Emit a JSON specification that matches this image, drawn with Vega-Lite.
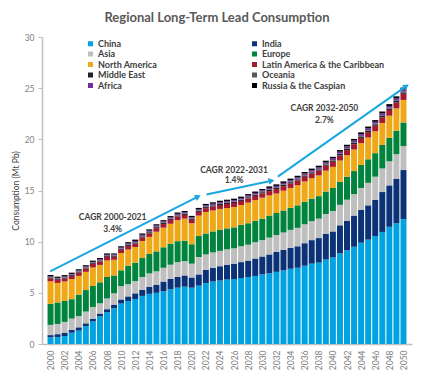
{
  "$schema": "https://vega.github.io/schema/vega-lite/v6.json",
  "width": 370,
  "height": 307,
  "autosize": {"type": "none"},
  "padding": {"left": 42, "top": 37, "right": 22, "bottom": 34},
  "background": "white",
  "title": {"text": "Regional Long-Term Lead Consumption", "font": "Lato", "fontSize": 13, "fontWeight": "bold", "color": "#595959", "anchor": "middle", "dx": -10, "offset": 8},
  "config": {
    "view": {"stroke": null},
    "axis": {"grid": false, "domainColor": "#BFBFBF", "tickColor": "#BFBFBF", "labelColor": "#7F7F7F", "labelFont": "Lato", "labelFontSize": 8.5, "titleFont": "Lato", "titleColor": "#404040", "titleFontSize": 8.5, "titleFontWeight": "normal"},
    "axisX": {"labelOverlap": false, "labelSeparation": 0, "labelBound": false},
    "legend": {"labelFont": "Lato", "labelFontSize": 9, "labelFontWeight": "bold", "labelColor": "#404040"}
  },
  "datasets": {
    "bars": [
      {"year":2000,"China":0.65,"India":0.22,"Asia":1.0,"Europe":2.05,"North America":2.2,"Latin America & the Caribbean":0.3,"Middle East":0.08,"Oceania":0.05,"Africa":0.07,"Russia & the Caspian":0.12},
      {"year":2001,"China":0.68,"India":0.28,"Asia":1.0,"Europe":2.1,"North America":1.91,"Latin America & the Caribbean":0.29,"Middle East":0.08,"Oceania":0.05,"Africa":0.07,"Russia & the Caspian":0.12},
      {"year":2002,"China":0.78,"India":0.33,"Asia":1.05,"Europe":2.05,"North America":1.9,"Latin America & the Caribbean":0.3,"Middle East":0.08,"Oceania":0.05,"Africa":0.07,"Russia & the Caspian":0.12},
      {"year":2003,"China":1.1,"India":0.28,"Asia":1.1,"Europe":1.9,"North America":1.96,"Latin America & the Caribbean":0.31,"Middle East":0.08,"Oceania":0.05,"Africa":0.07,"Russia & the Caspian":0.12},
      {"year":2004,"China":1.3,"India":0.33,"Asia":1.1,"Europe":2.1,"North America":1.83,"Latin America & the Caribbean":0.32,"Middle East":0.08,"Oceania":0.05,"Africa":0.07,"Russia & the Caspian":0.12},
      {"year":2005,"China":1.75,"India":0.27,"Asia":1.15,"Europe":2.1,"North America":1.78,"Latin America & the Caribbean":0.33,"Middle East":0.08,"Oceania":0.05,"Africa":0.07,"Russia & the Caspian":0.12},
      {"year":2006,"China":2.2,"India":0.27,"Asia":1.15,"Europe":2.05,"North America":1.81,"Latin America & the Caribbean":0.34,"Middle East":0.08,"Oceania":0.05,"Africa":0.08,"Russia & the Caspian":0.12},
      {"year":2007,"China":2.7,"India":0.28,"Asia":1.0,"Europe":2.05,"North America":1.7,"Latin America & the Caribbean":0.34,"Middle East":0.08,"Oceania":0.05,"Africa":0.08,"Russia & the Caspian":0.12},
      {"year":2008,"China":3.1,"India":0.3,"Asia":1.05,"Europe":2.1,"North America":1.62,"Latin America & the Caribbean":0.34,"Middle East":0.08,"Oceania":0.05,"Africa":0.08,"Russia & the Caspian":0.13},
      {"year":2009,"China":3.5,"India":0.35,"Asia":1.1,"Europe":1.75,"North America":1.53,"Latin America & the Caribbean":0.3,"Middle East":0.08,"Oceania":0.05,"Africa":0.08,"Russia & the Caspian":0.11},
      {"year":2010,"China":3.95,"India":0.4,"Asia":1.3,"Europe":1.55,"North America":1.68,"Latin America & the Caribbean":0.33,"Middle East":0.08,"Oceania":0.05,"Africa":0.08,"Russia & the Caspian":0.13},
      {"year":2011,"China":4.2,"India":0.45,"Asia":1.2,"Europe":1.8,"North America":1.58,"Latin America & the Caribbean":0.34,"Middle East":0.1,"Oceania":0.05,"Africa":0.1,"Russia & the Caspian":0.13},
      {"year":2012,"China":4.4,"India":0.55,"Asia":1.2,"Europe":1.8,"North America":1.53,"Latin America & the Caribbean":0.34,"Middle East":0.1,"Oceania":0.05,"Africa":0.1,"Russia & the Caspian":0.13},
      {"year":2013,"China":4.7,"India":0.6,"Asia":1.25,"Europe":1.85,"North America":1.67,"Latin America & the Caribbean":0.35,"Middle East":0.1,"Oceania":0.05,"Africa":0.1,"Russia & the Caspian":0.13},
      {"year":2014,"China":4.9,"India":0.7,"Asia":1.3,"Europe":1.9,"North America":1.67,"Latin America & the Caribbean":0.35,"Middle East":0.1,"Oceania":0.05,"Africa":0.1,"Russia & the Caspian":0.13},
      {"year":2015,"China":5.0,"India":0.8,"Asia":1.3,"Europe":1.95,"North America":1.92,"Latin America & the Caribbean":0.35,"Middle East":0.1,"Oceania":0.05,"Africa":0.1,"Russia & the Caspian":0.13},
      {"year":2016,"China":5.15,"India":0.95,"Asia":1.35,"Europe":2.0,"North America":1.92,"Latin America & the Caribbean":0.35,"Middle East":0.1,"Oceania":0.05,"Africa":0.1,"Russia & the Caspian":0.13},
      {"year":2017,"China":5.35,"India":1.0,"Asia":1.4,"Europe":2.05,"North America":1.95,"Latin America & the Caribbean":0.36,"Middle East":0.1,"Oceania":0.05,"Africa":0.11,"Russia & the Caspian":0.13},
      {"year":2018,"China":5.5,"India":1.05,"Asia":1.45,"Europe":2.05,"North America":2.05,"Latin America & the Caribbean":0.36,"Middle East":0.1,"Oceania":0.05,"Africa":0.11,"Russia & the Caspian":0.13},
      {"year":2019,"China":5.6,"India":1.1,"Asia":1.4,"Europe":2.0,"North America":2.15,"Latin America & the Caribbean":0.36,"Middle East":0.1,"Oceania":0.05,"Africa":0.11,"Russia & the Caspian":0.13},
      {"year":2020,"China":5.5,"India":1.0,"Asia":1.35,"Europe":1.9,"North America":2.05,"Latin America & the Caribbean":0.33,"Middle East":0.1,"Oceania":0.05,"Africa":0.11,"Russia & the Caspian":0.13},
      {"year":2021,"China":5.7,"India":1.1,"Asia":1.7,"Europe":2.05,"North America":2.0,"Latin America & the Caribbean":0.36,"Middle East":0.1,"Oceania":0.05,"Africa":0.11,"Russia & the Caspian":0.13},
      {"year":2022,"China":5.95,"India":1.3,"Asia":1.5,"Europe":2.05,"North America":2.1,"Latin America & the Caribbean":0.37,"Middle East":0.11,"Oceania":0.05,"Africa":0.12,"Russia & the Caspian":0.14},
      {"year":2023,"China":6.1,"India":1.35,"Asia":1.5,"Europe":2.05,"North America":2.05,"Latin America & the Caribbean":0.38,"Middle East":0.11,"Oceania":0.05,"Africa":0.12,"Russia & the Caspian":0.14},
      {"year":2024,"China":6.2,"India":1.4,"Asia":1.5,"Europe":2.05,"North America":2.05,"Latin America & the Caribbean":0.38,"Middle East":0.11,"Oceania":0.05,"Africa":0.12,"Russia & the Caspian":0.14},
      {"year":2025,"China":6.3,"India":1.45,"Asia":1.5,"Europe":2.05,"North America":1.99,"Latin America & the Caribbean":0.39,"Middle East":0.11,"Oceania":0.05,"Africa":0.12,"Russia & the Caspian":0.14},
      {"year":2026,"China":6.35,"India":1.5,"Asia":1.5,"Europe":2.05,"North America":1.99,"Latin America & the Caribbean":0.39,"Middle East":0.11,"Oceania":0.05,"Africa":0.12,"Russia & the Caspian":0.14},
      {"year":2027,"China":6.45,"India":1.55,"Asia":1.55,"Europe":2.1,"North America":1.93,"Latin America & the Caribbean":0.4,"Middle East":0.11,"Oceania":0.05,"Africa":0.12,"Russia & the Caspian":0.14},
      {"year":2028,"China":6.55,"India":1.6,"Asia":1.55,"Europe":2.1,"North America":2.02,"Latin America & the Caribbean":0.4,"Middle East":0.11,"Oceania":0.05,"Africa":0.13,"Russia & the Caspian":0.14},
      {"year":2029,"China":6.65,"India":1.7,"Asia":1.6,"Europe":2.1,"North America":2.01,"Latin America & the Caribbean":0.41,"Middle East":0.11,"Oceania":0.05,"Africa":0.13,"Russia & the Caspian":0.14},
      {"year":2030,"China":6.8,"India":1.75,"Asia":1.6,"Europe":2.1,"North America":2.05,"Latin America & the Caribbean":0.42,"Middle East":0.11,"Oceania":0.05,"Africa":0.13,"Russia & the Caspian":0.14},
      {"year":2031,"China":6.9,"India":1.85,"Asia":1.65,"Europe":2.15,"North America":1.97,"Latin America & the Caribbean":0.42,"Middle East":0.12,"Oceania":0.06,"Africa":0.13,"Russia & the Caspian":0.15},
      {"year":2032,"China":7.05,"India":1.95,"Asia":1.65,"Europe":2.15,"North America":1.91,"Latin America & the Caribbean":0.43,"Middle East":0.12,"Oceania":0.06,"Africa":0.13,"Russia & the Caspian":0.15},
      {"year":2033,"China":7.2,"India":2.0,"Asia":1.7,"Europe":2.15,"North America":1.93,"Latin America & the Caribbean":0.44,"Middle East":0.12,"Oceania":0.06,"Africa":0.14,"Russia & the Caspian":0.15},
      {"year":2034,"China":7.35,"India":2.05,"Asia":1.75,"Europe":2.15,"North America":1.95,"Latin America & the Caribbean":0.44,"Middle East":0.12,"Oceania":0.06,"Africa":0.14,"Russia & the Caspian":0.15},
      {"year":2035,"China":7.45,"India":2.1,"Asia":1.8,"Europe":2.2,"North America":1.97,"Latin America & the Caribbean":0.45,"Middle East":0.12,"Oceania":0.06,"Africa":0.14,"Russia & the Caspian":0.15},
      {"year":2036,"China":7.65,"India":2.2,"Asia":1.85,"Europe":2.2,"North America":1.98,"Latin America & the Caribbean":0.46,"Middle East":0.12,"Oceania":0.06,"Africa":0.14,"Russia & the Caspian":0.15},
      {"year":2037,"China":7.85,"India":2.3,"Asia":1.85,"Europe":2.2,"North America":2.0,"Latin America & the Caribbean":0.46,"Middle East":0.12,"Oceania":0.06,"Africa":0.15,"Russia & the Caspian":0.15},
      {"year":2038,"China":7.95,"India":2.4,"Asia":1.9,"Europe":2.2,"North America":2.02,"Latin America & the Caribbean":0.47,"Middle East":0.12,"Oceania":0.06,"Africa":0.15,"Russia & the Caspian":0.15},
      {"year":2039,"China":8.25,"India":2.5,"Asia":1.95,"Europe":2.2,"North America":2.04,"Latin America & the Caribbean":0.48,"Middle East":0.12,"Oceania":0.06,"Africa":0.15,"Russia & the Caspian":0.16},
      {"year":2040,"China":8.45,"India":2.55,"Asia":2.0,"Europe":2.25,"North America":2.06,"Latin America & the Caribbean":0.49,"Middle East":0.12,"Oceania":0.06,"Africa":0.15,"Russia & the Caspian":0.16},
      {"year":2041,"China":8.85,"India":2.75,"Asia":2.0,"Europe":2.25,"North America":2.08,"Latin America & the Caribbean":0.5,"Middle East":0.14,"Oceania":0.06,"Africa":0.16,"Russia & the Caspian":0.16},
      {"year":2042,"China":9.15,"India":2.9,"Asia":2.05,"Europe":2.25,"North America":2.1,"Latin America & the Caribbean":0.5,"Middle East":0.14,"Oceania":0.06,"Africa":0.16,"Russia & the Caspian":0.16},
      {"year":2043,"China":9.5,"India":3.05,"Asia":2.1,"Europe":2.25,"North America":2.11,"Latin America & the Caribbean":0.51,"Middle East":0.14,"Oceania":0.06,"Africa":0.16,"Russia & the Caspian":0.16},
      {"year":2044,"China":9.9,"India":3.2,"Asia":2.15,"Europe":2.25,"North America":2.12,"Latin America & the Caribbean":0.52,"Middle East":0.14,"Oceania":0.06,"Africa":0.17,"Russia & the Caspian":0.17},
      {"year":2045,"China":10.2,"India":3.35,"Asia":2.2,"Europe":2.3,"North America":2.13,"Latin America & the Caribbean":0.53,"Middle East":0.14,"Oceania":0.06,"Africa":0.17,"Russia & the Caspian":0.17},
      {"year":2046,"China":10.55,"India":3.55,"Asia":2.25,"Europe":2.3,"North America":2.14,"Latin America & the Caribbean":0.54,"Middle East":0.14,"Oceania":0.07,"Africa":0.17,"Russia & the Caspian":0.17},
      {"year":2047,"China":10.95,"India":3.9,"Asia":2.3,"Europe":2.3,"North America":2.15,"Latin America & the Caribbean":0.55,"Middle East":0.14,"Oceania":0.07,"Africa":0.18,"Russia & the Caspian":0.18},
      {"year":2048,"China":11.45,"India":4.05,"Asia":2.35,"Europe":2.3,"North America":2.16,"Latin America & the Caribbean":0.56,"Middle East":0.14,"Oceania":0.07,"Africa":0.18,"Russia & the Caspian":0.18},
      {"year":2049,"China":11.8,"India":4.35,"Asia":2.4,"Europe":2.3,"North America":2.18,"Latin America & the Caribbean":0.58,"Middle East":0.14,"Oceania":0.07,"Africa":0.19,"Russia & the Caspian":0.19},
      {"year":2050,"China":12.2,"India":4.8,"Asia":2.35,"Europe":2.3,"North America":2.2,"Latin America & the Caribbean":0.6,"Middle East":0.14,"Oceania":0.07,"Africa":0.2,"Russia & the Caspian":0.2}
    ],
    "arrows": [
      {"g":1,"year":1999.95,"v":7.1,"end":0},
      {"g":1,"year":2020.9,"v":14.4,"end":1},
      {"g":2,"year":2022.1,"v":14.6,"end":0},
      {"g":2,"year":2031.3,"v":15.95,"end":1},
      {"g":3,"year":2032.2,"v":16.35,"end":0},
      {"g":3,"year":2050.4,"v":25.2,"end":1}
    ],
    "notes": [
      {"t":"CAGR 2000-2021","year":2008.8,"v":12.4},
      {"t":"3.4%","year":2008.8,"v":11.25},
      {"t":"CAGR 2022-2031","year":2026.0,"v":17.05},
      {"t":"1.4%","year":2026.0,"v":16.0},
      {"t":"CAGR 2032-2050","year":2038.8,"v":23.05},
      {"t":"2.7%","year":2038.8,"v":21.9}
    ]
  },
  "encoding": {
    "x": {"field": "year", "type": "quantitative", "scale": {"domain": [1999.5, 2050.5], "nice": false, "zero": false},
          "axis": {"title": null, "values": [2000,2002,2004,2006,2008,2010,2012,2014,2016,2018,2020,2022,2024,2026,2028,2030,2032,2034,2036,2038,2040,2042,2044,2046,2048,2050], "format": "d", "labelAngle": 270, "labelAlign": "right", "labelBaseline": "middle", "labelOverlap": false, "labelSeparation": 0, "tickSize": 0, "labelPadding": 6, "domainWidth": 1.5}}
  },
  "layer": [
    {
      "data": {"name": "bars"},
      "transform": [
        {"fold": ["China","India","Asia","Europe","North America","Latin America & the Caribbean","Middle East","Oceania","Africa","Russia & the Caspian"], "as": ["region","value"]},
        {"window": [{"op": "row_number", "as": "k"}], "groupby": ["year"]}
      ],
      "mark": {"type": "bar", "width": 6},
      "encoding": {
        "y": {"field": "value", "type": "quantitative", "stack": "zero", "scale": {"domain": [0, 30], "nice": false},
              "axis": {"title": "Consumption (Mt Pb)", "values": [0,5,10,15,20,25,30], "tickSize": 4, "labelPadding": 4, "titlePadding": 4, "domainWidth": 1.5}},
        "order": {"field": "k", "type": "quantitative", "sort": "ascending"},
        "color": {"field": "region", "type": "nominal",
                  "sort": ["China","India","Asia","Europe","North America","Latin America & the Caribbean","Middle East","Oceania","Africa","Russia & the Caspian"],
                  "scale": {"domain": ["China","India","Asia","Europe","North America","Latin America & the Caribbean","Middle East","Oceania","Africa","Russia & the Caspian"],
                            "range": ["#00A3E0","#0B3277","#BFBFBF","#00843D","#EFA817","#A6192E","#1F232B","#595959","#6F2DA0","#000000"]},
                  "legend": {"title": null, "orient": "none", "legendX": 44, "legendY": 2, "columns": 2, "columnPadding": 92, "rowPadding": 0.5, "symbolType": "square", "symbolSize": 25, "labelOffset": 3, "direction": "horizontal"}}
      }
    },
    {
      "data": {"name": "arrows"},
      "mark": {"type": "line", "color": "#1AA7E0", "strokeWidth": 2},
      "encoding": {
        "y": {"field": "v", "type": "quantitative"},
        "detail": {"field": "g", "type": "nominal"}
      }
    },
    {
      "data": {"name": "arrows"},
      "transform": [{"filter": "datum.end == 1 && datum.g == 1"}],
      "mark": {"type": "point", "shape": "triangle-right", "filled": true, "color": "#1AA7E0", "size": 45, "angle": 334, "opacity": 1},
      "encoding": {"y": {"field": "v", "type": "quantitative"}}
    },
    {
      "data": {"name": "arrows"},
      "transform": [{"filter": "datum.end == 1 && datum.g == 2"}],
      "mark": {"type": "point", "shape": "triangle-right", "filled": true, "color": "#1AA7E0", "size": 45, "angle": 349, "opacity": 1},
      "encoding": {"y": {"field": "v", "type": "quantitative"}}
    },
    {
      "data": {"name": "arrows"},
      "transform": [{"filter": "datum.end == 1 && datum.g == 3"}],
      "mark": {"type": "point", "shape": "triangle-right", "filled": true, "color": "#1AA7E0", "size": 45, "angle": 327, "opacity": 1},
      "encoding": {"y": {"field": "v", "type": "quantitative"}}
    },
    {
      "data": {"name": "notes"},
      "mark": {"type": "text", "font": "Lato", "fontSize": 8.5, "fontWeight": "bold", "color": "#404040", "align": "center", "baseline": "middle"},
      "encoding": {"y": {"field": "v", "type": "quantitative"}, "text": {"field": "t"}}
    }
  ]
}
